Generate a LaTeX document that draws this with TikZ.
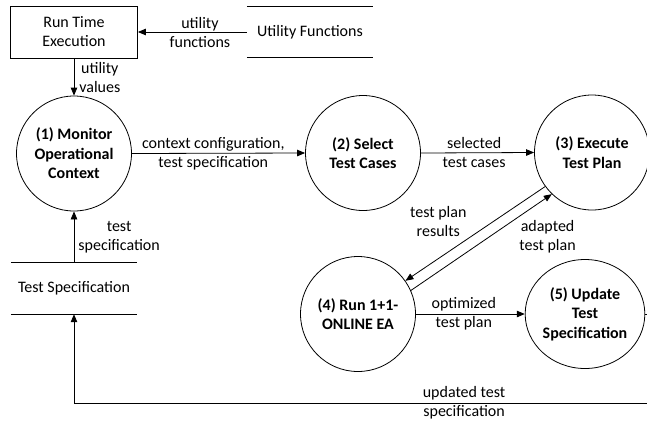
\documentclass[tikz,border=0pt]{standalone}
\usepackage{fontspec}
\setmainfont{Carlito}
\usetikzlibrary{arrows.meta,shapes.geometric}

\tikzset{
  flow/.style={draw, line width=0.8pt, -{Triangle[length=8pt,width=6.5pt]}},
  process/.style={circle, draw, line width=0.8pt, minimum size=115pt, inner sep=0pt,
    align=center, font=\fontsize{16}{19.5}\selectfont\bfseries},
  entity/.style={rectangle, draw, line width=0.8pt, minimum width=127pt, minimum height=52pt,
    align=center},
  store/.style={minimum width=126pt, minimum height=51pt, inner sep=0pt},
  lbl/.style={align=center, inner sep=2pt}
}

\begin{document}
\begin{tikzpicture}[x=1pt, y=-1pt, every node/.style={font=\fontsize{16}{19}\selectfont}]
  \clip (0,0) rectangle (647,424);

  % entity and data stores
  \node[entity] (rte) at (74,32) {Run Time\\Execution};
  \node[store] (utilfn) at (310,32) {Utility Functions};
  \node[store] (testspec) at (74,288.5) {Test Specification};
  \draw[line width=0.8pt] (utilfn.north west) -- (utilfn.north east)
    (utilfn.south west) -- (utilfn.south east);
  \draw[line width=0.8pt] (testspec.north west) -- (testspec.north east)
    (testspec.south west) -- (testspec.south east);

  % processes
  \node[process] (monitor) at (74,153.5) {(1) Monitor\\Operational\\Context};
  \node[process] (select) at (363,153) {(2) Select\\Test Cases};
  \node[process] (execute) at (592,152.5) {(3) Execute\\Test Plan};
  \node[process] (online) at (358,314) {(4) Run 1+1-\\ONLINE EA};
  \node[process, ellipse, minimum width=116pt, minimum height=109pt] (update) at (585,314)
    {(5) Update\\Test\\Specification};

  % data flows
  \draw[flow] (utilfn.west) -- (rte.east) node[lbl, pos=0.43] {utility\\functions};
  \draw[flow] (rte.south) -- (monitor.north) node[lbl, midway, right, xshift=3pt] {utility\\values};
  \draw[flow] (testspec.north) -- (monitor.south) node[lbl, midway, right, xshift=2pt] {test\\specification};
  \draw[flow] (monitor.east) -- (select.west)
    node[lbl, pos=0.47] {context configuration,\\test specification};
  \draw[flow] (select.east) -- (execute.west) node[lbl, pos=0.47] {selected\\test cases};
  \draw[flow] (execute.216) -- (online.35)
    node[lbl, midway, xshift=-37pt, yshift=12pt] {test plan\\results};
  \draw[flow] (online.24) -- (execute.226)
    node[lbl, pos=0.75, xshift=31pt, yshift=-19pt] {adapted\\test plan};
  \draw[flow] (online.east) -- (update.west) node[lbl, pos=0.44] {optimized\\test plan};

  % feedback to the test specification store
  \coordinate (loop) at (665,403);
  \draw[flow] (update.east) -| (loop) -| (testspec.south)
    node[lbl, pos=0.17] {updated test\\specification};
\end{tikzpicture}
\end{document}
